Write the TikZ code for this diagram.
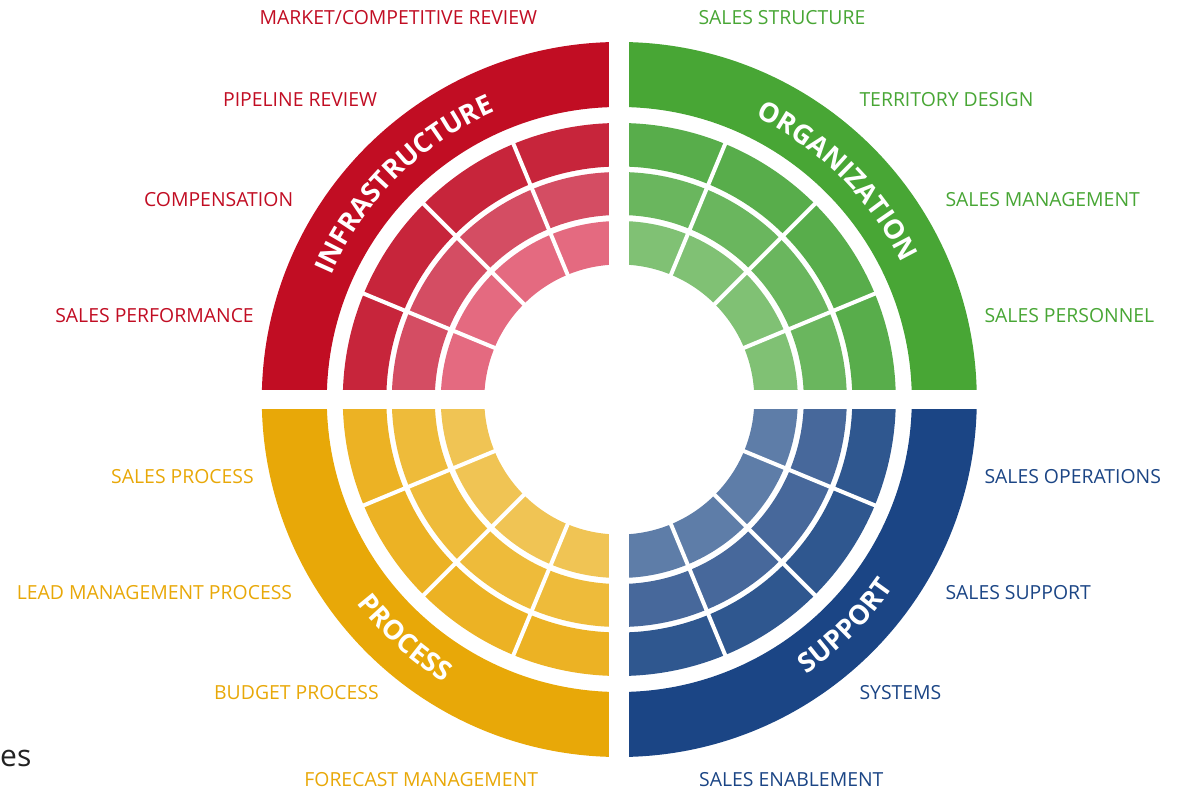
\documentclass[tikz,border=0pt]{standalone}
\usepackage{fontspec}
\setmainfont{Open Sans}
\usetikzlibrary{decorations.text}
\definecolor{RB}{RGB}{193,13,35}
\definecolor{R1}{RGB}{199,37,59}
\definecolor{R2}{RGB}{212,77,99}
\definecolor{R3}{RGB}{228,106,128}
\definecolor{GB}{RGB}{72,166,53}
\definecolor{G1}{RGB}{88,173,75}
\definecolor{G2}{RGB}{106,182,94}
\definecolor{G3}{RGB}{128,193,116}
\definecolor{YB}{RGB}{232,168,8}
\definecolor{Y1}{RGB}{236,178,36}
\definecolor{Y2}{RGB}{238,187,58}
\definecolor{Y3}{RGB}{240,196,84}
\definecolor{BB}{RGB}{27,69,133}
\definecolor{B1}{RGB}{47,87,143}
\definecolor{B2}{RGB}{71,104,155}
\definecolor{B3}{RGB}{94,125,168}
\definecolor{TXT}{RGB}{34,34,34}
\tikzset{
  lab/.style={font=\fontsize{19.4}{21}\selectfont, inner sep=0pt},
  labR/.style={lab, text=RB, anchor=base east},
  labG/.style={lab, text=GB, anchor=base west},
  labY/.style={lab, text=YB, anchor=base east},
  labB/.style={lab, text=BB, anchor=base west},
}
\newcommand{\annsec}[5]{% color, start, end, rout, rin
  \fill[#1] (#2:#4) arc[start angle=#2, end angle=#3, radius=#4] -- (#3:#5) arc[start angle=#3, end angle=#2, radius=#5] -- cycle;}
\newcommand{\ttlfont}{\color{white}\bfseries\fontsize{27}{27}\selectfont}
\begin{document}
\begin{tikzpicture}[x=1pt,y=1pt]
\useasboundingbox (-619.3,-389.5) rectangle (560.7,399.5);
% quadrants
\foreach \a/\cb/\ca/\cc/\cd in {0/GB/G1/G2/G3, 90/RB/R1/R2/R3, 180/YB/Y1/Y2/Y3, 270/BB/B1/B2/B3}{
  \pgfmathsetmacro{\e}{\a+90}
  \annsec{\cb}{\a}{\e}{357.5}{292.5}
  \annsec{\ca}{\a}{\e}{276.5}{233}
  \annsec{\cc}{\a}{\e}{227.5}{184.5}
  \annsec{\cd}{\a}{\e}{178.5}{135}
}
% radial cell borders
\foreach \t in {22.5,45,67.5,112.5,135,157.5,202.5,225,247.5,292.5,315,337.5}
  \draw[white, line width=4pt] (\t:128) -- (\t:282);
% gaps between quadrants
\fill[white] (-9.9,-365) rectangle (9.9,365);
\fill[white] (-365,-9.7) rectangle (365,9.7);
% titles on the arcs
\path[decorate, decoration={text along path, text align=center, text={|\ttlfont|INFRASTRUCTURE}}]
  (180:313.5) arc[start angle=180, end angle=90, radius=313.5];
\path[decorate, decoration={text along path, text align=center, text={|\ttlfont|ORGANIZATION}}]
  (90:313.5) arc[start angle=90, end angle=0, radius=313.5];
\path[decorate, decoration={text along path, text align=center, text={|\ttlfont|PROCESS}}]
  (183:332.5) arc[start angle=183, end angle=273, radius=332.5];
\path[decorate, decoration={text along path, text align=center, text={|\ttlfont|SUPPORT}}]
  (270:332.5) arc[start angle=270, end angle=360, radius=332.5];
% labels
\node[labR] (mcr) at (-82,374.5) {MARKET/COMPETITIVE REVIEW};
\node[labR] (pr) at (-242,292.8) {PIPELINE REVIEW};
\node[labR] (comp) at (-326,192.8) {COMPENSATION};
\node[labR] (sperf) at (-365.3,76.8) {SALES PERFORMANCE};
\node[labG] (sstr) at (79,374.5) {SALES STRUCTURE};
\node[labG] (td) at (240,292.8) {TERRITORY DESIGN};
\node[labG] (sman) at (326,192.8) {SALES MANAGEMENT};
\node[labG] (spers) at (365,76.8) {SALES PERSONNEL};
\node[labY] (sproc) at (-365.3,-84.2) {SALES PROCESS};
\node[labY] (lmp) at (-327,-199.8) {LEAD MANAGEMENT PROCESS};
\node[labY] (bp) at (-240.3,-300.2) {BUDGET PROCESS};
\node[labY] (fm) at (-81,-386.5) {FORECAST MANAGEMENT};
\node[labB] (sops) at (365,-84.2) {SALES OPERATIONS};
\node[labB] (ssup) at (326,-199.8) {SALES SUPPORT};
\node[labB] (sys) at (240,-300.2) {SYSTEMS};
\node[labB] (sen) at (79.7,-386.5) {SALES ENABLEMENT};
\node[font=\fontsize{30}{30}\selectfont, text=TXT, inner sep=0pt, anchor=base west] (es) at (-619.3,-367.2) {es};
\end{tikzpicture}
\end{document}
